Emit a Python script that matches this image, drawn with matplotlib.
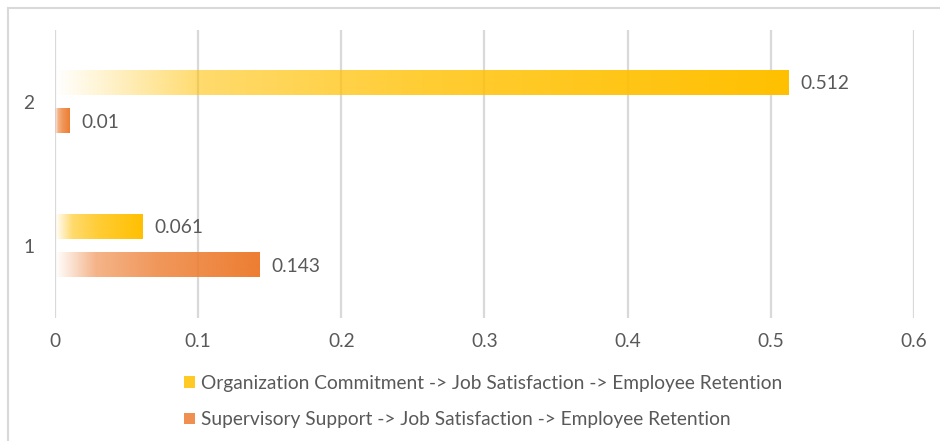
import numpy as np
import matplotlib
matplotlib.use("Agg")
import matplotlib.pyplot as plt
from matplotlib.patches import Patch
from matplotlib.colors import to_rgb
from matplotlib.lines import Line2D

categories = ["1", "2"]
series_names = [
    "Organization Commitment -> Job Satisfaction -> Employee Retention",
    "Supervisory Support -> Job Satisfaction -> Employee Retention",
]
org_commitment = [0.061, 0.512]
supervisory_support = [0.143, 0.01]
x_ticks = [0, 0.1, 0.2, 0.3, 0.4, 0.5, 0.6]
x_tick_labels = ["0", "0.1", "0.2", "0.3", "0.4", "0.5", "0.6"]

colors = ["#FFC000", "#ED7D31"]
text_color = "#595959"
grid_color = "#D9D9D9"
fs = 13.8

plt.rcParams["font.family"] = ["Lato", "DejaVu Sans"]

W, H = 940, 441
fig = plt.figure(figsize=(W / 100, H / 100), dpi=100)
ax = fig.add_axes([55 / W, (H - 318) / H, (914 - 55) / W, (318 - 30) / H])

ypos = np.arange(1, len(categories) + 1)
bar_h = 0.167
offs = [0.135, -0.135]
series = [org_commitment, supervisory_support]

def gradient_image(color):
    r, g, b = to_rgb(color)
    t = np.linspace(0, 1, 256)
    alpha = np.interp(t, [0, 0.2, 0.5, 1.0], [0.0, 0.58, 0.8, 1.0])
    img = np.zeros((1, 256, 4))
    img[0, :, 0] = r
    img[0, :, 1] = g
    img[0, :, 2] = b
    img[0, :, 3] = alpha
    return img

for vals, off, col in zip(series, offs, colors):
    bars = ax.barh(ypos + off, vals, height=bar_h, color="none", edgecolor="none")
    for rect, v in zip(bars, vals):
        x0, y0 = rect.get_x(), rect.get_y()
        w, h = rect.get_width(), rect.get_height()
        ax.imshow(gradient_image(col), extent=(x0, x0 + w, y0, y0 + h),
                  aspect="auto", interpolation="bilinear", zorder=3)
        ax.annotate(f"{v:g}", xy=(x0 + w, y0 + h / 2), xytext=(12, -1),
                    textcoords="offset pixels",
                    va="center", ha="left", fontsize=fs, color=text_color, zorder=4)

ax.set_xlim(0, 0.6)
ax.set_ylim(0.5, 2.5)
ax.set_xticks(x_ticks)
ax.set_xticklabels(x_tick_labels)
ax.set_yticks(ypos)
ax.set_yticklabels(categories)
ax.tick_params(axis="both", length=0, labelsize=fs, colors=text_color)
ax.tick_params(axis="x", pad=11)
ax.tick_params(axis="y", pad=15)
ax.grid(axis="x", color=grid_color, linewidth=1.6, zorder=0)
ax.set_axisbelow(True)
for s in ax.spines.values():
    s.set_visible(False)

# outer chart border (only top/left visible in crop)
fig.add_artist(Line2D([8 / W, 8 / W], [0, 1 - 8 / H], transform=fig.transFigure,
                      color="#D9D9D9", linewidth=1.5))
fig.add_artist(Line2D([8 / W, 1], [1 - 8 / H, 1 - 8 / H], transform=fig.transFigure,
                      color="#D9D9D9", linewidth=1.5))

handles = [Patch(facecolor=c, edgecolor="none", alpha=0.85) for c in colors]
fig.legend(handles, series_names, loc="upper left",
           bbox_to_anchor=(184 / W, 1 - 375 / H), frameon=False,
           fontsize=fs, labelcolor=text_color, handlelength=0.55, handleheight=0.55,
           handletextpad=0.35, labelspacing=1.0, borderpad=0, borderaxespad=0)

fig.savefig("out.png", dpi=100)
